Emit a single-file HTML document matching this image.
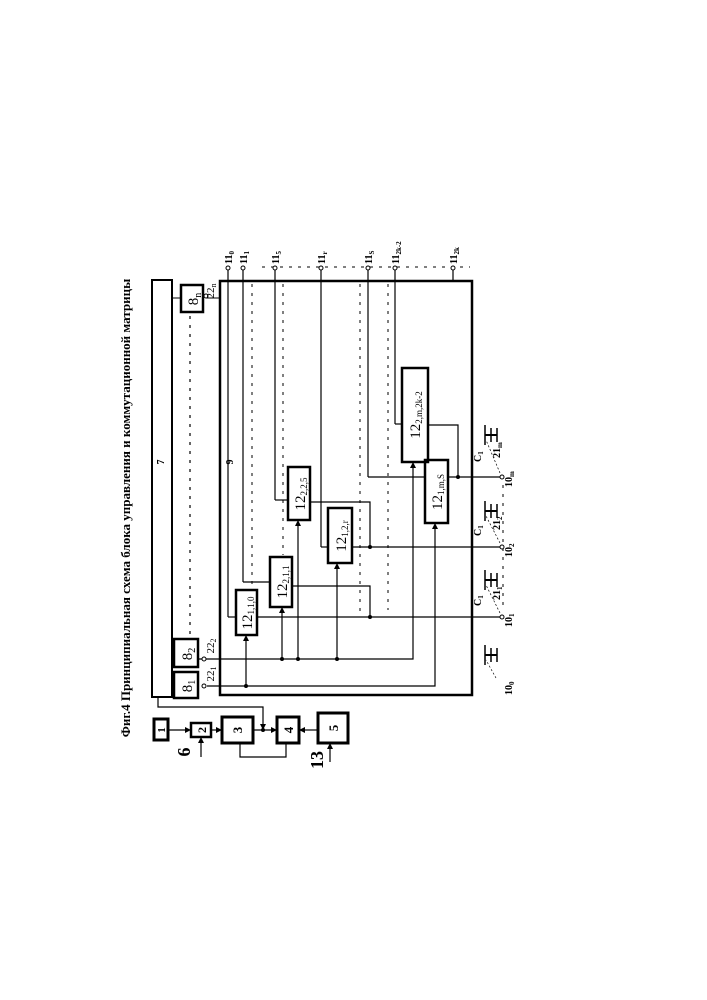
<!DOCTYPE html>
<html><head><meta charset="utf-8"><style>
html,body{margin:0;padding:0;background:#fff;}
svg{display:block;font-family:"Liberation Serif","DejaVu Serif",serif;}
</style></head><body>
<svg width="707" height="1000" viewBox="0 0 707 1000" xmlns="http://www.w3.org/2000/svg">
<text transform="translate(130,508) rotate(-90)" text-anchor="middle" font-size="13" font-weight="bold">Фиг.4 Принципиальная схема блока управления и коммутационной матрицы</text>

<g fill="none" stroke="#000">
<rect x="152" y="280" width="20" height="417" stroke-width="2"/>
<rect x="220" y="281" width="252" height="414" stroke-width="2.5"/>
<rect x="181" y="285" width="22" height="27" stroke-width="2.5"/>
<rect x="174" y="639" width="24" height="28" stroke-width="2.5"/>
<rect x="174" y="672" width="24" height="26" stroke-width="2.5"/>
<line x1="172" y1="298" x2="181" y2="298" stroke-width="1"/>
<line x1="172" y1="653" x2="174" y2="653" stroke-width="1"/>
<line x1="190" y1="316" x2="190" y2="636" stroke-width="1.2" stroke-dasharray="3,6"/>
<line x1="206" y1="298" x2="220" y2="298" stroke-width="1"/>
<rect x="154" y="719" width="14" height="21" stroke-width="3"/>
<rect x="191" y="723" width="20" height="14" stroke-width="2.5"/>
<rect x="222" y="717" width="31" height="26" stroke-width="3"/>
<rect x="277" y="717" width="22" height="26" stroke-width="3"/>
<rect x="318" y="713" width="30" height="30" stroke-width="3"/>
<g stroke-width="1.2">
<line x1="168" y1="730" x2="188" y2="730"/>
<line x1="211" y1="730" x2="219" y2="730"/>
<line x1="253" y1="730" x2="274" y2="730"/>
<line x1="318" y1="730" x2="302" y2="730"/>
<polyline points="158,697 158,707 263,707 263,727"/>
<polyline points="240,743 240,757 286,757 286,743"/>
<line x1="201" y1="757" x2="201" y2="740"/>
<line x1="330" y1="762" x2="330" y2="746"/>
<line x1="228" y1="270" x2="228" y2="617"/>
<line x1="243" y1="270" x2="243" y2="582"/>
<line x1="275" y1="270" x2="275" y2="500"/>
<line x1="321" y1="270" x2="321" y2="547"/>
<line x1="368" y1="270" x2="368" y2="477"/>
<line x1="395" y1="270" x2="395" y2="424"/>
<line x1="453" y1="270" x2="453" y2="281"/>
<line x1="228" y1="617" x2="236" y2="617"/>
<line x1="243" y1="582" x2="270" y2="582"/>
<line x1="275" y1="500" x2="288" y2="500"/>
<line x1="321" y1="547" x2="328" y2="547"/>
<line x1="368" y1="477" x2="425" y2="477"/>
<line x1="395" y1="424" x2="402" y2="424"/>
<line x1="257" y1="617" x2="500" y2="617"/>
<polyline points="292,586 370,586 370,617"/>
<polyline points="310,502 370,502 370,547"/>
<line x1="352" y1="547" x2="500" y2="547"/>
<line x1="448" y1="477" x2="500" y2="477"/>
<polyline points="428,425 458,425 458,477"/>
<polyline points="198,659 413,659 413,465"/>
<line x1="282" y1="659" x2="282" y2="610"/>
<line x1="298" y1="659" x2="298" y2="523"/>
<line x1="337" y1="659" x2="337" y2="566"/>
<polyline points="207,686 435,686 435,526"/>
<line x1="246" y1="686" x2="246" y2="638"/>
</g>
<g stroke-width="1" stroke-dasharray="3,6">
<line x1="252" y1="284" x2="252" y2="590"/>
<line x1="283" y1="284" x2="283" y2="555"/>
<line x1="360" y1="284" x2="360" y2="615"/>
<line x1="388" y1="284" x2="388" y2="610"/>
<line x1="262" y1="267" x2="470" y2="267"/>
<line x1="503" y1="485" x2="503" y2="610"/>
</g>
<rect x="236" y="590" width="21" height="45" stroke-width="2.5"/>
<rect x="270" y="557" width="22" height="50" stroke-width="2.5"/>
<rect x="288" y="467" width="22" height="53" stroke-width="2.5"/>
<rect x="328" y="508" width="24" height="55" stroke-width="2.5"/>
<rect x="425" y="460" width="23" height="63" stroke-width="2.5"/>
<rect x="402" y="368" width="26" height="94" stroke-width="2.5"/>
<g stroke-width="1" fill="#fff">
<circle cx="228" cy="268" r="2"/><circle cx="243" cy="268" r="2"/><circle cx="275" cy="268" r="2"/>
<circle cx="321" cy="268" r="2"/><circle cx="368" cy="268" r="2"/><circle cx="395" cy="268" r="2"/><circle cx="453" cy="268" r="2"/>
<circle cx="206" cy="296" r="2"/><circle cx="204" cy="659" r="2"/><circle cx="204" cy="686" r="2"/>
<circle cx="502" cy="617" r="2"/><circle cx="502" cy="547" r="2"/><circle cx="502" cy="477" r="2"/>
</g>
<g stroke-width="1.5">
<g transform="translate(491,655)"><line x1="-6" y1="-10" x2="-6" y2="10"/><line x1="0" y1="-7" x2="0" y2="7"/><line x1="6" y1="-7" x2="6" y2="7"/><line x1="-6" y1="0" x2="6" y2="0" stroke-width="2"/></g>
<g transform="translate(491,580)"><line x1="-6" y1="-10" x2="-6" y2="10"/><line x1="0" y1="-7" x2="0" y2="7"/><line x1="6" y1="-7" x2="6" y2="7"/><line x1="-6" y1="0" x2="6" y2="0" stroke-width="2"/></g>
<g transform="translate(491,511)"><line x1="-6" y1="-10" x2="-6" y2="10"/><line x1="0" y1="-7" x2="0" y2="7"/><line x1="6" y1="-7" x2="6" y2="7"/><line x1="-6" y1="0" x2="6" y2="0" stroke-width="2"/></g>
<g transform="translate(491,435)"><line x1="-6" y1="-10" x2="-6" y2="10"/><line x1="0" y1="-7" x2="0" y2="7"/><line x1="6" y1="-7" x2="6" y2="7"/><line x1="-6" y1="0" x2="6" y2="0" stroke-width="2"/></g>
</g>
<g stroke-width="0.7" stroke-dasharray="2,2">
<line x1="496" y1="678" x2="486" y2="660"/>
<line x1="500" y1="613" x2="486" y2="585"/>
<line x1="500" y1="543" x2="486" y2="516"/>
<line x1="500" y1="473" x2="486" y2="440"/>
</g>
</g>
<g fill="#000">
<polygon points="191,730 185,727 185,733"/>
<polygon points="222,730 216,727 216,733"/>
<polygon points="277,730 271,727 271,733"/>
<polygon points="299,730 305,727 305,733"/>
<polygon points="263,730 260,724 266,724"/>
<polygon points="201,737 198,743 204,743"/>
<polygon points="330,743 327,749 333,749"/>
<polygon points="282,607 279,613 285,613"/>
<polygon points="298,520 295,526 301,526"/>
<polygon points="337,563 334,569 340,569"/>
<polygon points="413,462 410,468 416,468"/>
<polygon points="435,523 432,529 438,529"/>
<polygon points="246,635 243,641 249,641"/>
<circle cx="282" cy="659" r="2"/><circle cx="298" cy="659" r="2"/><circle cx="337" cy="659" r="2"/>
<circle cx="246" cy="686" r="2"/><circle cx="263" cy="730" r="2"/>
<circle cx="370" cy="617" r="2"/><circle cx="370" cy="547" r="2"/><circle cx="458" cy="477" r="2"/>
</g>
<g font-size="13">
<text transform="translate(165,730) rotate(-90)" text-anchor="middle" font-weight="bold" font-size="11">1</text>
<text transform="translate(206,730) rotate(-90)" text-anchor="middle" font-weight="bold" font-size="12">2</text>
<text transform="translate(242,730) rotate(-90)" text-anchor="middle" font-weight="bold">3</text>
<text transform="translate(293,730) rotate(-90)" text-anchor="middle" font-weight="bold">4</text>
<text transform="translate(338,728) rotate(-90)" text-anchor="middle" font-weight="bold">5</text>
<text transform="translate(190,752) rotate(-90)" text-anchor="middle" font-weight="bold" font-size="18">6</text>
<text transform="translate(323,760) rotate(-90)" text-anchor="middle" font-weight="bold" font-size="18">13</text>
<text transform="translate(164,462) rotate(-90)" text-anchor="middle" font-weight="bold" font-size="10">7</text>
<text transform="translate(233,462) rotate(-90)" text-anchor="middle" font-weight="bold" font-size="10">9</text>
<text transform="translate(198,299) rotate(-90)" text-anchor="middle" font-size="15">8<tspan font-size="10" dy="3">n</tspan></text>
<text transform="translate(192,654) rotate(-90)" text-anchor="middle" font-size="15">8<tspan font-size="10" dy="3">2</tspan></text>
<text transform="translate(192,686) rotate(-90)" text-anchor="middle" font-size="15">8<tspan font-size="10" dy="3">1</tspan></text>
<text transform="translate(214,291) rotate(-90)" text-anchor="middle" font-size="11">22<tspan font-size="8" dy="2">n</tspan></text>
<text transform="translate(214,646) rotate(-90)" text-anchor="middle" font-size="11">22<tspan font-size="8" dy="2">2</tspan></text>
<text transform="translate(214,674) rotate(-90)" text-anchor="middle" font-size="11">22<tspan font-size="8" dy="2">1</tspan></text>
<g font-size="15">
<text transform="translate(252,613) rotate(-90)" text-anchor="middle">12<tspan font-size="9" dy="2">1,1,0</tspan></text>
<text transform="translate(287,582) rotate(-90)" text-anchor="middle">12<tspan font-size="9" dy="2">2,1,1</tspan></text>
<text transform="translate(305,494) rotate(-90)" text-anchor="middle">12<tspan font-size="9" dy="2">2,2,5</tspan></text>
<text transform="translate(346,536) rotate(-90)" text-anchor="middle">12<tspan font-size="9" dy="2">1,2,r</tspan></text>
<text transform="translate(442,492) rotate(-90)" text-anchor="middle">12<tspan font-size="9" dy="2">1,m,S</tspan></text>
<text transform="translate(420,415) rotate(-90)" text-anchor="middle">12<tspan font-size="9" dy="2">2,m,2k-2</tspan></text>
</g>
<g font-size="10" font-weight="bold">
<text transform="translate(232,264) rotate(-90)">11<tspan font-size="7" dy="2">0</tspan></text>
<text transform="translate(247,264) rotate(-90)">11<tspan font-size="7" dy="2">1</tspan></text>
<text transform="translate(279,264) rotate(-90)">11<tspan font-size="7" dy="2">5</tspan></text>
<text transform="translate(325,264) rotate(-90)">11<tspan font-size="7" dy="2">r</tspan></text>
<text transform="translate(372,264) rotate(-90)">11<tspan font-size="7" dy="2">S</tspan></text>
<text transform="translate(399,264) rotate(-90)">11<tspan font-size="7" dy="2">2k-2</tspan></text>
<text transform="translate(457,264) rotate(-90)">11<tspan font-size="7" dy="2">2k</tspan></text>
<text transform="translate(512,695) rotate(-90)">10<tspan font-size="7" dy="2">0</tspan></text>
<text transform="translate(512,627) rotate(-90)">10<tspan font-size="7" dy="2">1</tspan></text>
<text transform="translate(512,557) rotate(-90)">10<tspan font-size="7" dy="2">2</tspan></text>
<text transform="translate(512,487) rotate(-90)">10<tspan font-size="7" dy="2">m</tspan></text>
<text transform="translate(500,600) rotate(-90)">21<tspan font-size="7" dy="2">1</tspan></text>
<text transform="translate(500,530) rotate(-90)">21<tspan font-size="7" dy="2">2</tspan></text>
<text transform="translate(500,458) rotate(-90)">21<tspan font-size="7" dy="2">m</tspan></text>
<text transform="translate(481,606) rotate(-90)">C<tspan font-size="7" dy="2">1</tspan></text>
<text transform="translate(481,536) rotate(-90)">C<tspan font-size="7" dy="2">1</tspan></text>
<text transform="translate(481,462) rotate(-90)">C<tspan font-size="7" dy="2">1</tspan></text>
</g>
</g>
</svg>
</body></html>
